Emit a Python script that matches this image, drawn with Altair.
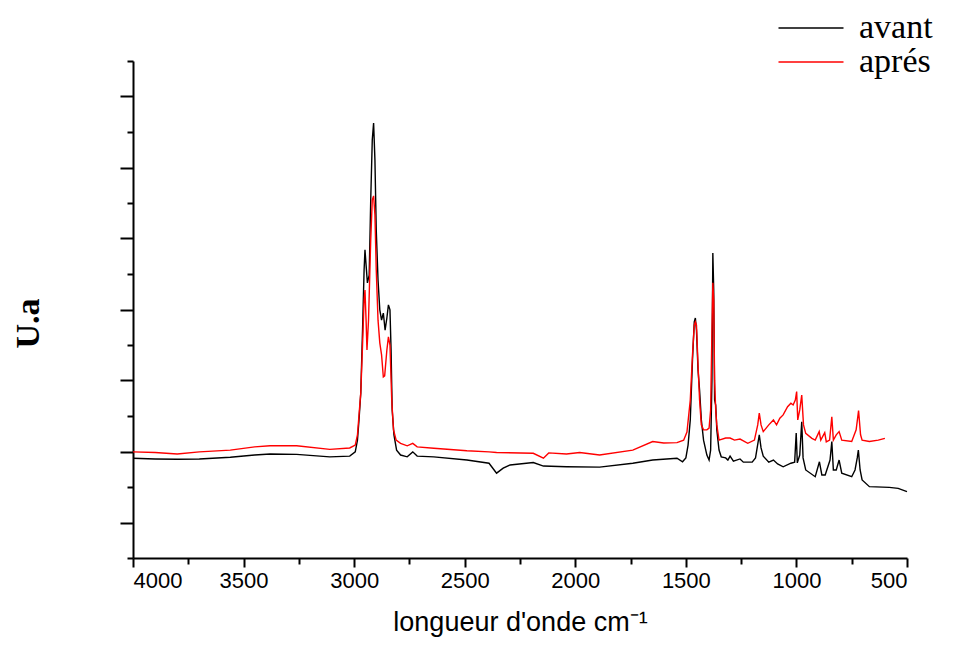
import altair as alt
import pandas as pd

series_names = ["avant", "aprés"]
series_colors = ["#000000", "#ff0000"]

avant_wn = [4000, 3900, 3800, 3700, 3560, 3450, 3380, 3260, 3110, 3020, 2995, 2985, 2978, 2970,
            2962, 2955, 2951, 2946, 2940, 2932, 2925, 2918, 2912, 2906, 2900, 2892, 2884, 2876,
            2868, 2860, 2852, 2845, 2838, 2833, 2828, 2820, 2808, 2790, 2760, 2735, 2715, 2640,
            2490, 2390, 2356, 2326, 2295, 2190, 2144, 2040, 1890, 1740, 1650, 1540, 1515, 1500,
            1490, 1480, 1470, 1462, 1457, 1452, 1445, 1438, 1430, 1420, 1405, 1395, 1388, 1382,
            1378, 1374, 1370, 1365, 1360, 1350, 1340, 1320, 1310, 1300, 1285, 1255, 1240, 1200,
            1185, 1168, 1160, 1150, 1125, 1104, 1085, 1060, 1025, 1008, 1001, 996, 985, 976,
            970, 958, 915, 896, 885, 870, 848, 840, 833, 820, 807, 795, 750, 735, 725, 720,
            712, 703, 670, 580, 540, 500]
avant_val = [2.81, 2.79, 2.78, 2.79, 2.84, 2.90, 2.93, 2.92, 2.85, 2.87, 2.99, 3.32, 3.89, 4.65,
             6.42, 8.11, 8.68, 8.25, 7.75, 7.97, 10.09, 11.78, 12.25, 11.21, 9.24, 7.83, 6.99, 6.70,
             6.90, 6.42, 6.76, 7.13, 6.99, 5.86, 4.17, 3.47, 3.04, 2.90, 2.85, 2.99, 2.87, 2.85,
             2.76, 2.67, 2.39, 2.53, 2.62, 2.69, 2.59, 2.57, 2.56, 2.67, 2.76, 2.81, 2.71, 2.82,
             3.18, 3.89, 5.58, 6.65, 6.76, 6.42, 5.30, 4.73, 3.89, 3.32, 2.90, 2.76, 3.04, 5.01,
             8.59, 7.55, 4.45, 4.31, 3.61, 3.04, 2.85, 2.82, 2.76, 2.87, 2.73, 2.79, 2.70, 2.70,
             2.82, 3.47, 3.10, 2.87, 2.70, 2.76, 2.65, 2.57, 2.67, 2.70, 3.52, 2.68, 2.90, 3.84,
             2.82, 2.48, 2.29, 2.71, 2.34, 2.34, 2.76, 3.28, 2.48, 2.48, 2.76, 2.39, 2.29, 2.48,
             2.82, 3.04, 2.48, 2.20, 2.01, 1.99, 1.96, 1.87]

apres_wn = [4000, 3900, 3800, 3700, 3560, 3450, 3380, 3260, 3110, 3020, 2995, 2985, 2978, 2970,
            2962, 2955, 2951, 2946, 2942, 2935, 2925, 2918, 2912, 2906, 2900, 2892, 2884, 2876,
            2868, 2862, 2852, 2845, 2838, 2830, 2822, 2810, 2790, 2760, 2735, 2715, 2640, 2490,
            2390, 2356, 2190, 2144, 2120, 2040, 1980, 1890, 1740, 1650, 1600, 1540, 1510, 1495,
            1480, 1470, 1462, 1457, 1452, 1445, 1438, 1430, 1420, 1405, 1395, 1388, 1382, 1378,
            1374, 1370, 1365, 1360, 1350, 1320, 1300, 1280, 1255, 1220, 1190, 1175, 1168, 1160,
            1150, 1125, 1104, 1090, 1075, 1060, 1040, 1025, 1015, 1005, 999, 994, 985, 976,
            968, 958, 930, 915, 897, 890, 872, 865, 850, 840, 833, 820, 807, 795, 750, 730,
            719, 710, 703, 670, 630, 600]
apres_val = [2.99, 2.97, 2.93, 2.99, 3.04, 3.13, 3.16, 3.16, 3.06, 3.10, 3.18, 3.47, 4.03, 4.65,
             6.00, 7.27, 7.55, 6.70, 5.86, 6.70, 8.96, 10.09, 10.20, 9.66, 8.11, 6.70, 6.06, 5.72,
             5.10, 5.13, 5.86, 6.23, 6.00, 4.45, 3.61, 3.32, 3.23, 3.16, 3.23, 3.13, 3.09, 3.02,
             2.99, 2.97, 2.95, 2.81, 2.96, 2.93, 2.97, 2.90, 3.04, 3.28, 3.24, 3.25, 3.32, 3.55,
             4.45, 5.72, 6.56, 6.65, 6.56, 5.44, 4.45, 3.75, 3.61, 3.61, 3.66, 4.17, 6.42, 7.75,
             7.27, 5.01, 4.17, 3.75, 3.32, 3.38, 3.38, 3.32, 3.35, 3.23, 3.32, 3.75, 4.08, 3.75,
             3.56, 3.75, 3.89, 3.75, 3.94, 4.03, 4.26, 4.36, 4.31, 4.45, 4.69, 3.89, 4.17, 4.59,
             3.75, 3.51, 3.37, 3.32, 3.56, 3.32, 3.53, 3.27, 3.32, 3.98, 3.32, 3.47, 3.56, 3.32,
             3.28, 3.61, 4.15, 3.47, 3.32, 3.28, 3.32, 3.37]

x_ticks = list(range(500, 4001, 250))
y_ticks = list(range(0, 15))

df = pd.concat([
    pd.DataFrame({"wn": avant_wn, "val": avant_val, "serie": series_names[0]}),
    pd.DataFrame({"wn": apres_wn, "val": apres_val, "serie": series_names[1]}),
], ignore_index=True)

x_axis = alt.Axis(
    values=x_ticks, format="d",
    labelExpr="datum.value % 500 === 0 ? datum.label : ''",
    tickSize={"condition": {"test": "datum.value % 500 === 0", "value": 9}, "value": 6},
    tickWidth=2, tickColor="#000", domainColor="#000", domainWidth=2,
    labelFont="Liberation Sans", labelFontSize=22, labelColor="#000", labelPadding=3,
    grid=False, title="longueur d'onde cm⁻¹", titleFont="Liberation Sans",
    titleFontSize=27, titleFontWeight="normal", titleColor="#000",
    titleY=72, titleBaseline="alphabetic",
)
y_axis = alt.Axis(
    values=y_ticks, labels=False,
    tickSize={"condition": {"test": "datum.value % 2 === 1", "value": 13}, "value": 6},
    tickWidth=2, tickColor="#000", domainColor="#000", domainWidth=2, grid=False,
    title="U.a", titleFont="Liberation Serif", titleFontSize=34, titleFontWeight="bold",
    titleColor="#000", titleX=-95, titleY=262, titleAngle=270, titleBaseline="alphabetic",
    titleAlign="center",
)

chart = alt.Chart(df).mark_line(strokeWidth=1.4).encode(
    x=alt.X("wn:Q", scale=alt.Scale(domain=[500, 4000], reverse=True, nice=False, zero=False),
            axis=x_axis),
    y=alt.Y("val:Q", scale=alt.Scale(domain=[0, 14], nice=False, zero=False), axis=y_axis),
    color=alt.Color(
        "serie:N",
        scale=alt.Scale(domain=series_names, range=series_colors),
        legend=alt.Legend(
            title=None, orient="none", legendX=661, legendY=-50,
            symbolType="M-6.5,0H6.5", symbolSize=100, symbolStrokeWidth=1.5,
            labelFont="Liberation Serif", labelFontSize=34, labelColor="#000",
            labelOffset=31, padding=0, rowPadding=-4, labelLimit=200,
            labelExpr="datum.label === 'aprés' ? '\u00a0aprés' : datum.label",
        ),
    ),
).properties(
    width=774, height=497, autosize="none",
    padding={"left": 125, "top": 53, "right": 38, "bottom": 80},
).configure_view(stroke=None)

chart.save("out.html", embed_options={"renderer": "svg", "actions": False})
